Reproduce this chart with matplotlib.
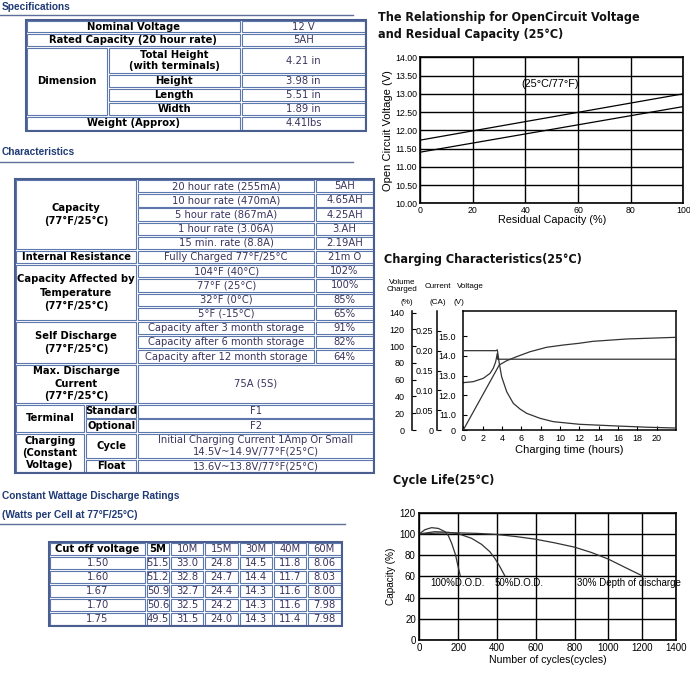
"""Battery datasheet page: spec tables + OCV / charging / cycle-life charts."""
import numpy as np
import matplotlib
matplotlib.use("Agg")
import matplotlib.pyplot as plt
from matplotlib.patches import Rectangle
from matplotlib.ticker import FormatStrFormatter

W, H = 690, 684

# ─── data ──────────────────────────────────────────────
SPEC_LABELS = ["Nominal Voltage", "Rated Capacity (20 hour rate)",
               "Total Height\n(with terminals)", "Height", "Length", "Width",
               "Weight (Approx)"]
SPEC_VALUES = ["12 V", "5AH", "4.21 in", "3.98 in", "5.51 in", "1.89 in", "4.41lbs"]

CAP_RATES = ["20 hour rate (255mA)", "10 hour rate (470mA)", "5 hour rate (867mA)",
             "1 hour rate (3.06A)", "15 min. rate (8.8A)"]
CAP_VALUES = ["5AH", "4.65AH", "4.25AH", "3.AH", "2.19AH"]
IR_LABEL, IR_VALUE = "Fully Charged 77°F/25°C", "21m O"
TEMP_LABELS = ["104°F (40°C)", "77°F (25°C)", "32°F (0°C)", "5°F (-15°C)"]
TEMP_VALUES = ["102%", "100%", "85%", "65%"]
SELF_LABELS = ["Capacity after 3 month storage", "Capacity after 6 month storage",
               "Capacity after 12 month storage"]
SELF_VALUES = ["91%", "82%", "64%"]
MAX_DISCHARGE = "75A (5S)"
TERMINALS = [("Standard", "F1"), ("Optional", "F2")]
CHARGING = [("Cycle", "Initial Charging Current 1Amp Or Small\n14.5V~14.9V/77°F(25°C)"),
            ("Float", "13.6V~13.8V/77°F(25°C)")]

WATT_COLS = ["5M", "10M", "15M", "30M", "40M", "60M"]
WATT_CUTOFF = ["1.50", "1.60", "1.67", "1.70", "1.75"]
WATT_5M = [51.5, 51.2, 50.9, 50.6, 49.5]
WATT_10M = [33.0, 32.8, 32.7, 32.5, 31.5]
WATT_15M = [24.8, 24.7, 24.4, 24.2, 24.0]
WATT_30M = [14.5, 14.4, 14.3, 14.3, 14.3]
WATT_40M = [11.8, 11.7, 11.6, 11.6, 11.4]
WATT_60M = [8.06, 8.03, 8.00, 7.98, 7.98]

# OCV vs residual capacity
OCV_CAP = [0, 100]
OCV_HI = [11.73, 13.00]
OCV_LO = [11.40, 12.65]

# charging characteristics
CHG_T_VOLT = [0, 1.03, 2.07, 2.76, 3.1, 3.35, 3.52, 3.55, 22]
CHG_VOLT = [12.64, 12.69, 12.86, 13.11, 13.37, 13.70, 14.13, 13.83, 13.83]
CHG_T_CUR = [0, 3.38, 3.52, 3.72, 3.97, 4.49, 5.17, 5.86, 6.56, 7.93, 9.31, 12.0,
             16.0, 19.0, 22.0]
CHG_CUR = [0.200, 0.200, 0.202, 0.168, 0.134, 0.0965, 0.0673, 0.053, 0.042, 0.0295,
           0.021, 0.0144, 0.010, 0.007, 0.005]
CHG_T_VOL = [0, 3.72, 4.49, 5.52, 6.9, 8.62, 10.34, 12.0, 13.4, 16.9, 22]
CHG_VOLUME = [0, 77.6, 82.7, 87.5, 93.4, 98.7, 101.4, 103.5, 105.8, 108.6, 110.6]

# cycle life
DOD100_X = [0, 29, 63, 97, 132, 149, 166, 186, 197, 210]
DOD100_Y = [100, 104.0, 105.9, 105.2, 102.1, 98.3, 91.1, 80.1, 70.7, 60.6]
DOD50_X = [0, 80, 149, 200, 270, 322, 365, 391, 417, 442]
DOD50_Y = [100, 102.1, 101.5, 100.2, 95.8, 90.1, 83.2, 77.0, 69.1, 60.6]
DOD30_X = [0, 100, 200, 300, 400, 500, 600, 700, 800, 900, 1000, 1100, 1210]
DOD30_Y = [100, 100.8, 101, 100.5, 99.5, 97.5, 95, 91.5, 87.5, 82.5, 76.3, 68.5, 60]
CYC_TICKS = [0, 200, 400, 600, 800, 1000, 1200, 1400]
# the printed grid is not evenly spaced
CYC_GRID_FRAC = [0, 0.152, 0.301, 0.453, 0.605, 0.736, 0.866, 1.0]

# ─── style ─────────────────────────────────────────────
plt.rcParams["font.family"] = ["Liberation Sans", "DejaVu Sans"]
TFONT = ["DejaVu Sans"]
TSIZE = 7.2
VAL_C = "#3b355e"
HEAD_C = "#1f3a74"
CELL_EDGE = "#5d78ad"
FRAME_EDGE = "#4a5f8f"
LINE_C = "#333"

fig = plt.figure(figsize=(W / 100, H / 100), dpi=100)
bg = fig.add_axes([0, 0, 1, 1])
bg.set_xlim(0, W); bg.set_ylim(H, 0); bg.axis("off")


def px_axes(l, t, r, b):
    return fig.add_axes([l / W, 1 - b / H, (r - l) / W, (b - t) / H])


def cell(x0, y0, x1, y1, text="", bold=False, color=VAL_C, ls=1.3):
    bg.add_patch(Rectangle((x0 + 0.9, y0 + 0.9), x1 - x0 - 1.8, y1 - y0 - 1.8,
                           fill=False, ec=CELL_EDGE, lw=0.8))
    if text:
        bg.text((x0 + x1) / 2, (y0 + y1) / 2, text, ha="center", va="center",
                family=TFONT, fontsize=TSIZE, color=color, linespacing=ls,
                fontweight="bold" if bold else "normal")


def frame(x0, y0, x1, y1):
    bg.add_patch(Rectangle((x0, y0), x1 - x0, y1 - y0, fill=False,
                           ec=FRAME_EDGE, lw=1.5))


def section(y, text, line_y, line_x1):
    bg.text(2, y, text, ha="left", va="center", fontsize=7.3,
            fontweight="bold", color=HEAD_C)
    if line_y is not None:
        bg.plot([0, line_x1], [line_y, line_y], color="#5c6f99", lw=1.0)


# ─── Specifications ────────────────────────────────────
section(7, "Specifications", 14.5, 353)
sx = [26, 107.7, 240.7, 366]
sy = [20, 33.3, 47, 74, 88, 102, 116, 131]
for i in (0, 1):
    cell(sx[0], sy[i], sx[2], sy[i + 1], SPEC_LABELS[i], bold=True, color="k")
    cell(sx[2], sy[i], sx[3], sy[i + 1], SPEC_VALUES[i])
cell(sx[0], sy[2], sx[1], sy[6], "Dimension", bold=True, color="k")
for i in range(4):
    cell(sx[1], sy[2 + i], sx[2], sy[3 + i], SPEC_LABELS[2 + i], bold=True,
         color="k", ls=1.15)
    cell(sx[2], sy[2 + i], sx[3], sy[3 + i], SPEC_VALUES[2 + i])
cell(sx[0], sy[6], sx[2], sy[7], SPEC_LABELS[6], bold=True, color="k")
cell(sx[2], sy[6], sx[3], sy[7], SPEC_VALUES[6])
frame(sx[0], sy[0], sx[3], sy[7])

# ─── Characteristics ───────────────────────────────────
section(152.3, "Characteristics", 161.7, 353)
cx = [15, 85, 137.3, 315, 374]
cy = [179 + 14.2 * i for i in range(14)] + [404, 418.5, 432.7, 459.3, 473.3]


def sub_rows(r0, labels, values):
    for i, (lab, val) in enumerate(zip(labels, values)):
        cell(cx[2], cy[r0 + i], cx[3], cy[r0 + i + 1], lab)
        cell(cx[3], cy[r0 + i], cx[4], cy[r0 + i + 1], val)


cell(cx[0], cy[0], cx[2], cy[5], "Capacity\n(77°F/25°C)", bold=True, color="k", ls=1.45)
sub_rows(0, CAP_RATES, CAP_VALUES)
cell(cx[0], cy[5], cx[2], cy[6], "Internal Resistance", bold=True, color="k")
sub_rows(5, [IR_LABEL], [IR_VALUE])
cell(cx[0], cy[6], cx[2], cy[10], "Capacity Affected by\nTemperature\n(77°F/25°C)",
     bold=True, color="k", ls=1.4)
sub_rows(6, TEMP_LABELS, TEMP_VALUES)
cell(cx[0], cy[10], cx[2], cy[13], "Self Discharge\n(77°F/25°C)", bold=True, color="k", ls=1.4)
sub_rows(10, SELF_LABELS, SELF_VALUES)
cell(cx[0], cy[13], cx[2], cy[14], "Max. Discharge\nCurrent\n(77°F/25°C)",
     bold=True, color="k", ls=1.3)
cell(cx[2], cy[13], cx[4], cy[14], MAX_DISCHARGE)
cell(cx[0], cy[14], cx[1], cy[16], "Terminal", bold=True, color="k")
for i, (lab, val) in enumerate(TERMINALS):
    cell(cx[1], cy[14 + i], cx[2], cy[15 + i], lab, bold=True, color="k")
    cell(cx[2], cy[14 + i], cx[4], cy[15 + i], val)
cell(cx[0], cy[16], cx[1], cy[18], "Charging\n(Constant\nVoltage)", bold=True,
     color="k", ls=1.2)
for i, (lab, val) in enumerate(CHARGING):
    cell(cx[1], cy[16 + i], cx[2], cy[17 + i], lab, bold=True, color="k")
    cell(cx[2], cy[16 + i], cx[4], cy[17 + i], val, ls=1.15)
frame(cx[0], cy[0], cx[4], cy[18])

# ─── Constant wattage table ────────────────────────────
section(495.7, "Constant Wattage Discharge Ratings", None, 0)
section(515, "(Watts per Cell at 77°F/25°C)", 524.3, 345)
wx = [49.3, 145.7, 170, 204.3, 238.7, 272.7, 307, 341.7]
wy = [542, 556.3, 570, 584, 598.3, 612.3, 626]
cell(wx[0], wy[0], wx[1], wy[1], "Cut off voltage", bold=True, color="k")
for j, name in enumerate(WATT_COLS):
    cell(wx[1 + j], wy[0], wx[2 + j], wy[1], name, bold=(j == 0),
         color="k" if j == 0 else VAL_C)
watt_cols = [WATT_5M, WATT_10M, WATT_15M, WATT_30M, WATT_40M, WATT_60M]
for i, v in enumerate(WATT_CUTOFF):
    cell(wx[0], wy[1 + i], wx[1], wy[2 + i], v)
    for j, col in enumerate(watt_cols):
        fmt = "{:.2f}" if j == 5 else "{:.1f}"
        cell(wx[1 + j], wy[1 + i], wx[2 + j], wy[2 + i], fmt.format(col[i]))
frame(wx[0], wy[0], wx[-1], wy[-1])

# ─── chart titles ──────────────────────────────────────
TITLE_KW = dict(ha="left", va="center", fontsize=9.0, fontweight="bold",
                family="DejaVu Sans", fontstretch="condensed", color="#111")
bg.text(378.3, 17.3, "The Relationship for OpenCircuit Voltage", **TITLE_KW)
bg.text(378.3, 34.3, "and Residual Capacity (25°C)", **TITLE_KW)
bg.text(384, 260, "Charging Characteristics(25°C)", **TITLE_KW)
bg.text(393.3, 480.7, "Cycle Life(25°C)", **TITLE_KW)

# ─── OCV chart ─────────────────────────────────────────
ax1 = px_axes(420, 57.3, 683.3, 203.3)
ax1.plot(OCV_CAP, OCV_HI, color="k", lw=0.9)
ax1.plot(OCV_CAP, OCV_LO, color="k", lw=0.9)
ax1.set_xlim(0, 100); ax1.set_ylim(10, 14)
ax1.set_xticks(range(0, 101, 20))
ax1.set_yticks(np.arange(10, 14.01, 0.5))
ax1.yaxis.set_major_formatter(FormatStrFormatter("%.2f"))
ax1.grid(True, color="k", lw=1.0)
ax1.tick_params(length=0, pad=2, labelsize=6.3)
for s in ax1.spines.values():
    s.set_linewidth(1.2)
ax1.text(38.6, 13.27, "(25°C/77°F)", fontsize=7.8, va="center", ha="left")
ax1.set_xlabel("Residual Capacity (%)", fontsize=7.8, labelpad=0)
ax1.set_ylabel("Open Circuit Voltage (V)", fontsize=8, labelpad=1.5)

# ─── charging chart ────────────────────────────────────
CT, CB = 311, 430
axV = px_axes(463.3, CT, 676, CB)
axV.set_xlim(0, 22); axV.set_ylim(10.234, 16.28)
axV.plot(CHG_T_VOLT, CHG_VOLT, color=LINE_C, lw=0.9)
axV.set_yticks([10.234, 11, 12, 13, 14, 15])
axV.set_yticklabels(["0", "11.0", "12.0", "13.0", "14.0", "15.0"])
axV.set_xticks(range(0, 21, 2))
axV.tick_params(axis="y", direction="in", length=3, labelsize=6.5, pad=5.3)
axV.tick_params(axis="x", direction="in", length=3, labelsize=6.5, pad=3)
for s in axV.spines.values():
    s.set_linewidth(1.1)
axV.set_xlabel("Charging time (hours)", fontsize=8, labelpad=1)

axCur = axV.twinx(); axCur.set_ylim(0, 0.30); axCur.axis("off")
axCur.plot(CHG_T_CUR, CHG_CUR, color=LINE_C, lw=0.9)
axVolp = axV.twinx(); axVolp.set_ylim(0, 142); axVolp.axis("off")
axVolp.plot(CHG_T_VOL, CHG_VOLUME, color=LINE_C, lw=0.9)


def spine_axes(x, ylim, ticks, labels, pad):
    a = px_axes(x, CT, x + 1, CB)
    a.set_ylim(*ylim)
    a.patch.set_visible(False)
    for k in ("right", "top", "bottom"):
        a.spines[k].set_visible(False)
    a.spines["left"].set_linewidth(1.1)
    a.set_xticks([])
    a.set_yticks(ticks)
    a.set_yticklabels(labels)
    a.tick_params(axis="y", direction="in", length=3, labelsize=6.5, pad=pad)
    return a


spine_axes(411.7, (0, 142), range(0, 141, 20), [str(v) for v in range(0, 141, 20)], 5.3)
spine_axes(436.7, (0, 0.30), [0, 0.05, 0.10, 0.15, 0.20, 0.25],
           ["0", "0.05", "0.10", "0.15", "0.20", "0.25"], 2.4)

SMALL = dict(fontsize=5.8, ha="center", va="center")
bg.text(402.3, 286, "Volume\nCharged", linespacing=1.1, **SMALL)
bg.text(437.7, 286, "Current", **SMALL)
bg.text(470, 286, "Voltage", **SMALL)
bg.text(406.7, 302.3, "(%)", **SMALL)
bg.text(438.3, 302.3, "(CA)", **SMALL)
bg.text(458.7, 302.3, "(V)", **SMALL)

INNER = dict(fontsize=6.6, va="center")
bg.text(468.7, 321, "Discharge:100%", ha="left", **INNER)
bg.text(468.7, 332.3, "Temperature:25°C", ha="left", **INNER)
bg.text(552.7, 321, "Charge voltage:2.30V/cell", ha="left", **INNER)
bg.text(552.7, 332.3, "Charge current:0.20CA", ha="left", **INNER)
bg.text(672.7, 349, "Charged volume", ha="right", **INNER)
bg.text(636.7, 372, "Charge voltage", ha="center", **INNER)
bg.text(672.7, 412, "Charging current", ha="right", **INNER)

# ─── cycle life chart ──────────────────────────────────
ax3 = px_axes(419.3, 512.7, 676, 640)
ax3.set_xscale("function", functions=(
    lambda x: np.interp(x, CYC_TICKS, CYC_GRID_FRAC),
    lambda y: np.interp(y, CYC_GRID_FRAC, CYC_TICKS)))
ax3.set_xlim(0, 1400); ax3.set_ylim(0, 120)
ax3.plot(DOD100_X, DOD100_Y, color=LINE_C, lw=0.9)
ax3.plot(DOD50_X, DOD50_Y, color=LINE_C, lw=0.9)
ax3.plot(DOD30_X, DOD30_Y, color=LINE_C, lw=0.9)
ax3.set_xticks(CYC_TICKS)
ax3.set_xticklabels([str(v) for v in CYC_TICKS])
ax3.set_yticks(range(0, 121, 20))
ax3.grid(True, color="k", lw=1.0)
ax3.tick_params(length=0, pad=2.5, labelsize=7)
for s in ax3.spines.values():
    s.set_linewidth(1.2)
LBL = dict(fontsize=7.0, va="center", ha="left")
ax3.text(55, 53.5, "100%D.O.D.", **LBL)
ax3.text(390, 53.5, "50%D.O.D.", **LBL)
ax3.text(812, 53.5, "30% Depth of discharge", **LBL)
ax3.set_xlabel("Number of cycles(cycles)", fontsize=7.6, labelpad=1)
ax3.set_ylabel("Capacity (%)", fontsize=7.2, labelpad=3)

fig.savefig("out.png", dpi=100)
